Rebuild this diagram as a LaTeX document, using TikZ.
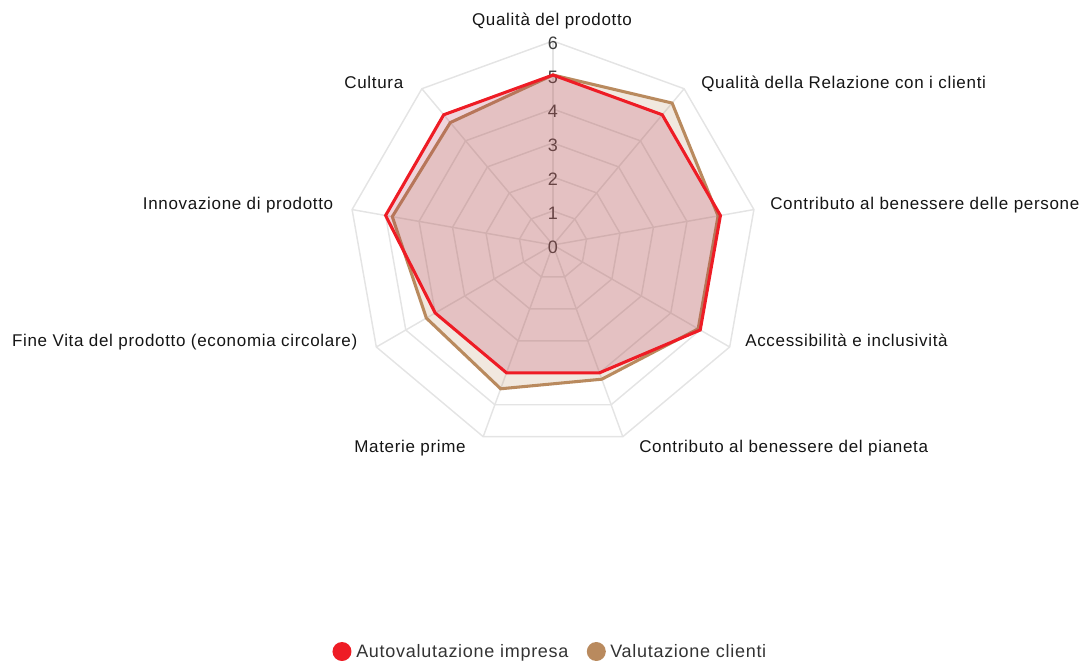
\documentclass[tikz,border=0pt]{standalone}
\usepackage{fontspec}
\setmainfont{Liberation Sans}
\newfontfamily\etiqfont{Liberation Sans}[LetterSpace=4]
\usepackage{tikz}
\usetikzlibrary{positioning}
\definecolor{rougeimpresa}{HTML}{EE1C25}
\definecolor{roseimpresa}{HTML}{B0294E}
\definecolor{brunclienti}{HTML}{B98A5E}
\definecolor{grisgrille}{HTML}{E4E4E4}
\definecolor{grisgradu}{HTML}{3C3C3C}
\definecolor{noiretiq}{HTML}{151515}
\definecolor{grislegende}{HTML}{333333}

\begin{document}
\begin{tikzpicture}[x=0.75pt,y=0.75pt]
% définition des paramètres
\tikzstyle grilleradar=[color=grisgrille,line width=1.1pt]
\tikzstyle polyimpresa=[draw=rougeimpresa,fill=roseimpresa,fill opacity=0.2,line width=2.3pt]
\tikzstyle polyclienti=[draw=brunclienti,fill=brunclienti,fill opacity=0.2,line width=2.3pt]
\tikzstyle graduradar=[inner sep=0pt,text=grisgradu,font=\fontsize{13.5pt}{15pt}\selectfont]
\tikzstyle etiqradar=[inner sep=0pt,text=noiretiq,font=\etiqfont\fontsize{12.75pt}{14pt}\selectfont]
\tikzstyle legende=[inner sep=0pt,text=grislegende,font=\etiqfont\fontsize{13.5pt}{15pt}\selectfont]
\tikzstyle pastille=[circle,inner sep=0pt,minimum size=14.25pt]
\newcommand{\unite}{34} % pixels par graduation
% le cadre
\useasboundingbox (-553,-415) rectangle (531,245);
% la grille
\foreach \r in {1,...,6}
    \draw[grilleradar] (90:{\r*\unite}) \foreach \k in {1,...,8} { -- ({90-40*\k}:{\r*\unite}) } -- cycle;
\foreach \k in {0,...,8}
    \draw[grilleradar] (0,0) -- ({90-40*\k}:{6*\unite});
% les graduations
\foreach \r in {0,...,6}
    \node[graduradar] (grad\r) at (0,{\r*\unite-2}) {\r};
% les valeurs
\filldraw[polyclienti] (90:{5*\unite}) \foreach \v [count=\k] in {5.45,4.93,4.93,4.2,4.5,4.3,4.8,4.7} { -- ({90-40*\k}:{\v*\unite}) } -- cycle;
\filldraw[polyimpresa] (90:{5*\unite}) \foreach \v [count=\k] in {5,5,5,4,4,4,5,5} { -- ({90-40*\k}:{\v*\unite}) } -- cycle;
% les étiquettes
\node[etiqradar,anchor=base] (qualprod) at (-1,219) {Qualità del prodotto};
\node[etiqradar,anchor=base west] (relazione) at (148,156.5) {Qualità della Relazione con i clienti};
\node[etiqradar,anchor=base west] (persone) at (217,35.5) {Contributo al benessere delle persone};
\node[etiqradar,anchor=base west] (accessib) at (192,-101.5) {Accessibilità e inclusività};
\node[etiqradar,anchor=base west] (pianeta) at (86,-207) {Contributo al benessere del pianeta};
\node[etiqradar,anchor=base east] (materie) at (-87,-207) {Materie prime};
\node[etiqradar,anchor=base east] (finevita) at (-195.5,-101.5) {Fine Vita del prodotto (economia circolare)};
\node[etiqradar,anchor=base east] (innovaz) at (-219.5,35.5) {Innovazione di prodotto};
\node[etiqradar,anchor=base east] (cultura) at (-149.5,156.5) {Cultura};
% la légende
\node[pastille,fill=rougeimpresa] (pastimpresa) at (-211,-406.5) {};
\node[legende,anchor=base west] (legimpresa) at (-197,-412) {Autovalutazione impresa};
\node[pastille,fill=brunclienti] (pastclienti) at (43.3,-406.5) {};
\node[legende,anchor=base west] (legclienti) at (57,-412) {Valutazione clienti};
\end{tikzpicture}
\end{document}
